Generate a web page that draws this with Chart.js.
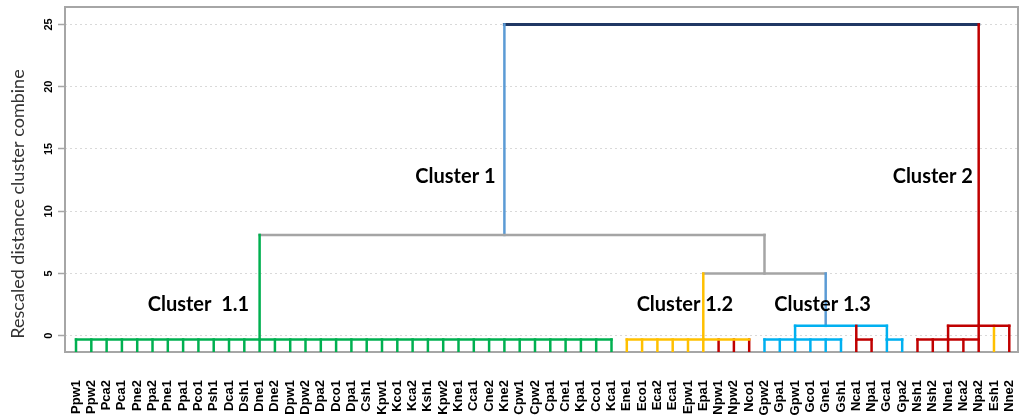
<!DOCTYPE html>
<html>
<head>
<meta charset="utf-8">
<title>Dendrogram</title>
<script src="https://cdn.jsdelivr.net/npm/chart.js@4.4.1/dist/chart.umd.min.js"></script>
<style>
  html, body { margin: 0; padding: 0; background: #fff; }
  #wrap { width: 1024px; height: 420px; position: relative; }
</style>
</head>
<body>
<div id="wrap"><canvas id="chartDendro"></canvas></div>
<script>
// Data: leaves (left to right) and the height at which each leaf first joins
const leafLabels = ['Ppw1','Ppw2','Pca2','Pca1','Pne2','Ppa2','Pne1','Ppa1','Pco1','Psh1',
  'Dca1','Dsh1','Dne1','Dne2','Dpw1','Dpw2','Dpa2','Dco1','Dpa1','Csh1',
  'Kpw1','Kco1','Kca2','Ksh1','Kpw2','Kne1','Cca1','Cne2','Kne2','Cpw1',
  'Cpw2','Cpa1','Cne1','Kpa1','Cco1','Kca1','Ene1','Eco1','Eca2','Eca1',
  'Epw1','Epa1','Npw1','Npw2','Nco1','Gpw2','Gpa1','Gpw1','Gco1','Gne1',
  'Gsh1','Nca1','Npa1','Gca1','Gpa2','Nsh1','Nsh2','Nne1','Nca2','Npa2',
  'Esh1','Nne2'];
const leafJoin = [-0.3,-0.3,-0.3,-0.3,-0.3,-0.3,-0.3,-0.3,-0.3,-0.3,
  -0.3,-0.3,-0.3,-0.3,-0.3,-0.3,-0.3,-0.3,-0.3,-0.3,
  -0.3,-0.3,-0.3,-0.3,-0.3,-0.3,-0.3,-0.3,-0.3,-0.3,
  -0.3,-0.3,-0.3,-0.3,-0.3,-0.3,-0.3,-0.3,-0.3,-0.3,
  -0.3,-0.3,-0.3,-0.3,-0.3,-0.3,-0.3,-0.3,-0.3,-0.3,
  -0.3,-0.3,-0.3,-0.3,-0.3,-0.3,-0.3,-0.3,-0.3,0.8,
  0.8,0.8];

// Merges: horizontal bar from leaf mergeFrom to leaf mergeTo at mergeHeight,
// stem rising at leaf mergeStem up to the height of merge mergeParent
const mergeFrom   = [0, 36, 45, 51, 53, 55, 47, 57, 41, 12, 28];
const mergeTo     = [35, 44, 50, 52, 54, 59, 53, 61, 49, 45, 59];
const mergeHeight = [-0.3, -0.3, -0.3, -0.3, -0.3, -0.3, 0.8, 0.8, 5.0, 8.1, 25.0];
const mergeStem   = [12, 41, 47, 51, 53, 57, 49, 59, 45, 28, null];
const mergeParent = [9, 8, 6, 6, 6, 7, 8, 10, 9, 10, null];

const yTicks = [0, 5, 10, 15, 20, 25];
const clusterNames = ['Cluster 1', 'Cluster 2', 'Cluster  1.1', 'Cluster 1.2', 'Cluster 1.3'];

// Styles
const C = { g: '#00b050', y: '#ffc000', r: '#c00000', c: '#00b0f0', s: '#5b9bd5', k: '#a5a5a5', n: '#203864' };
const leafColor = 'gggggggggggggggggggggggggggggggggggg' + 'yyyyyy' + 'rrr' + 'cccccc' + 'rr' + 'cc' + 'rrrrr' + 'y' + 'r';
const mergeLineColor = ['g', 'y', 'c', 'r', 'c', 'r', 'c', 'r', 'k', 'k', 'n'];
const mergeStemColor = ['g', 'y', 'c', 'r', 'c', 'r', 's', 'r', 'k', 's', null];
// where the cluster captions sit, in axis units (leaf index, distance)
const captionPos = [[24.8, 12.3], [56.0, 12.3], [8.0, 2.0], [39.8, 2.0], [48.8, 2.0]];
const Y_MIN = -1.3;

const datasets = [];
function seg(x1, y1, x2, y2, color, w) {
    datasets.push({
        data: [{ x: x1, y: y1 }, { x: x2, y: y2 }],
        borderColor: color,
        borderWidth: w || 2.5,
        borderCapStyle: 'square',
        showLine: true,
        pointRadius: 0,
        fill: false
    });
}

// horizontal bars and stems first so they sit on top
mergeFrom.forEach((from, k) => {
    const h = mergeHeight[k];
    seg(from, h, mergeTo[k], h, C[mergeLineColor[k]], k === 10 ? 3 : 2.5);
    if (mergeParent[k] !== null) {
        seg(mergeStem[k], h, mergeStem[k], mergeHeight[mergeParent[k]], C[mergeStemColor[k]]);
    }
});
leafLabels.forEach((_, i) => {
    seg(i, Y_MIN, i, leafJoin[i], C[leafColor[i]]);
});

const framePlugin = {
    id: 'frame',
    beforeDatasetsDraw(chart) {
        const { ctx, chartArea: a } = chart;
        ctx.save();
        ctx.strokeStyle = '#a6a6a6';
        ctx.lineWidth = 2;
        ctx.strokeRect(a.left, a.top, a.right - a.left, a.bottom - a.top);
        ctx.restore();
    },
    afterDraw(chart) {
        const { ctx } = chart;
        const xs = chart.scales.x, ys = chart.scales.y;
        ctx.save();
        // axis title
        ctx.translate(18, 204);
        ctx.rotate(-Math.PI / 2);
        ctx.fillStyle = '#333';
        ctx.font = '18px Lato';
        ctx.textAlign = 'center';
        ctx.textBaseline = 'middle';
        ctx.fillText('Rescaled distance cluster combine', 0, 0);
        ctx.restore();
        // cluster captions
        ctx.save();
        ctx.fillStyle = '#000';
        ctx.font = 'bold 20px Lato';
        ctx.textAlign = 'center';
        ctx.textBaseline = 'alphabetic';
        clusterNames.forEach((name, i) => {
            ctx.fillText(name, xs.getPixelForValue(captionPos[i][0]), ys.getPixelForValue(captionPos[i][1]));
        });
        ctx.restore();
    }
};

new Chart(document.getElementById('chartDendro'), {
    type: 'scatter',
    data: { datasets: datasets },
    plugins: [framePlugin],
    options: {
        responsive: true,
        maintainAspectRatio: false,
        animation: false,
        devicePixelRatio: 1,
        events: [],
        layout: { padding: { top: 7, right: 6, left: 0, bottom: 0 } },
        plugins: { legend: { display: false }, tooltip: { enabled: false } },
        scales: {
            x: {
                type: 'linear',
                min: -0.72,
                max: 61.57,
                afterBuildTicks: s => { s.ticks = leafLabels.map((_, i) => ({ value: i })); },
                afterFit: s => { s.height = 68; s.paddingLeft = 0; s.paddingRight = 0; },
                grid: { display: false, drawTicks: false },
                border: { display: false },
                ticks: {
                    autoSkip: false,
                    minRotation: 90,
                    maxRotation: 90,
                    padding: 28,
                    color: '#000',
                    font: { family: 'Liberation Sans', size: 13, weight: 'bold' },
                    callback: (v, i) => leafLabels[i]
                }
            },
            y: {
                type: 'linear',
                min: Y_MIN,
                max: 26.4,
                afterBuildTicks: s => { s.ticks = yTicks.map(v => ({ value: v })); },
                afterFit: s => { s.width = 65; s.paddingTop = 0; s.paddingBottom = 0; },
                grid: { color: '#d9d9d9', tickColor: '#a6a6a6', tickLength: 7, lineWidth: 1, tickWidth: 1.5 },
                border: { display: false, dash: [2, 3] },
                ticks: {
                    minRotation: 90,
                    maxRotation: 90,
                    crossAlign: 'center',
                    padding: 3,
                    color: '#000',
                    font: { family: 'Liberation Sans', size: 11, weight: 'bold' }
                }
            }
        }
    }
});
</script>
</body>
</html>
